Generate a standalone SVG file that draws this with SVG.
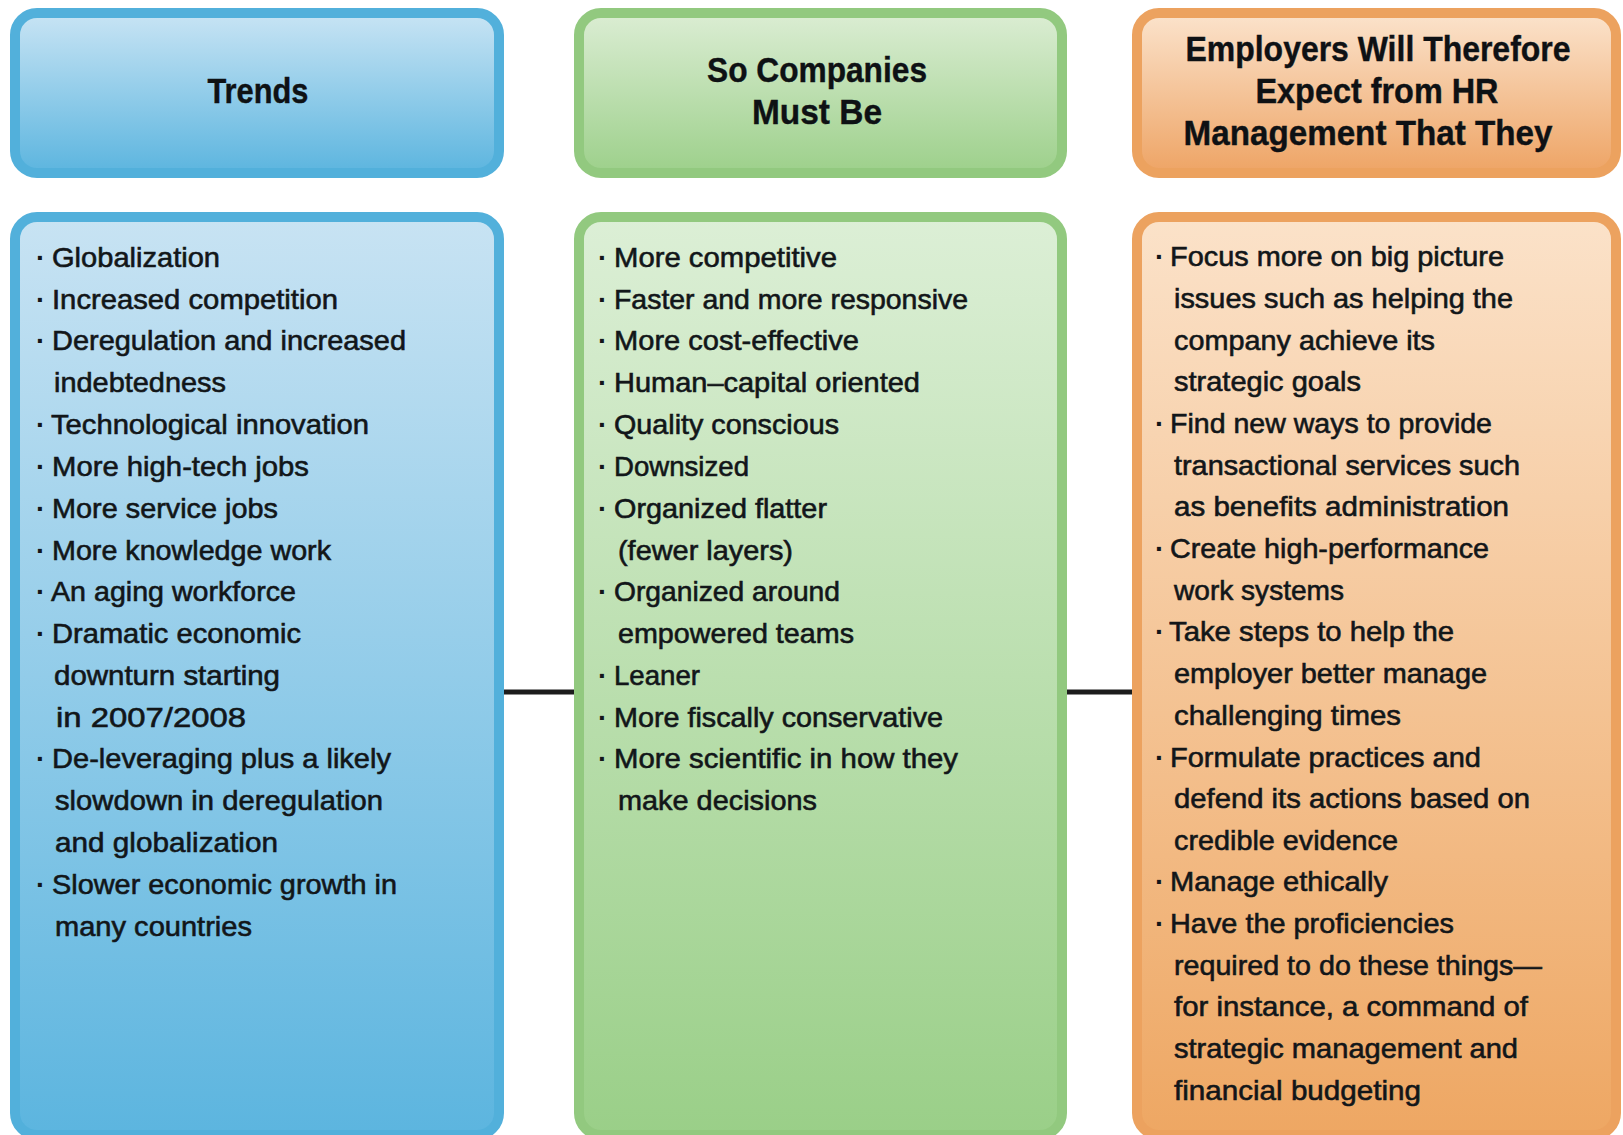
<svg xmlns="http://www.w3.org/2000/svg" width="1623" height="1135" viewBox="0 0 1623 1135">
  <defs>
    <linearGradient id="gBlueHead" x1="0" y1="0" x2="0" y2="1">
      <stop offset="0" stop-color="#c8e4f4"/>
      <stop offset="1" stop-color="#5cb5df"/>
    </linearGradient>
    <linearGradient id="gBlueBody" x1="0" y1="0" x2="0" y2="1">
      <stop offset="0" stop-color="#c8e3f3"/>
      <stop offset="1" stop-color="#5cb5df"/>
    </linearGradient>
    <linearGradient id="gGreenHead" x1="0" y1="0" x2="0" y2="1">
      <stop offset="0" stop-color="#dbedd3"/>
      <stop offset="1" stop-color="#9dd08b"/>
    </linearGradient>
    <linearGradient id="gGreenBody" x1="0" y1="0" x2="0" y2="1">
      <stop offset="0" stop-color="#dcefd6"/>
      <stop offset="1" stop-color="#9acf88"/>
    </linearGradient>
    <linearGradient id="gOrangeHead" x1="0" y1="0" x2="0" y2="1">
      <stop offset="0" stop-color="#fbe3cc"/>
      <stop offset="1" stop-color="#eea465"/>
    </linearGradient>
    <linearGradient id="gOrangeBody" x1="0" y1="0" x2="0" y2="1">
      <stop offset="0" stop-color="#fbe2c9"/>
      <stop offset="1" stop-color="#eea763"/>
    </linearGradient>
  </defs>
  <style>
    .box { stroke-width: 10; }
    .blue { stroke: #52b0db; }
    .green { stroke: #92c97f; }
    .orange { stroke: #eca25f; }
    .head { font-family: "Liberation Sans", Arial, sans-serif; font-weight: bold; font-size: 35px; fill: #0e1114; stroke: #0e1114; stroke-width: 0.4; text-anchor: middle; }
    .item { font-family: "Liberation Sans", Arial, sans-serif; font-size: 28.5px; fill: #121619; stroke: #121619; stroke-width: 0.6; }
    .dot { font-family: "Liberation Sans", Arial, sans-serif; font-size: 28px; fill: #121619; font-weight: bold; }
    .link { stroke: #1c1c1c; stroke-width: 5; fill: none; }
  </style>

  <rect width="1623" height="1135" fill="#ffffff"/>

  <!-- connectors between the body columns -->
  <g id="connectors">
    <line class="link" x1="504" y1="692" x2="574" y2="692"/>
    <line class="link" x1="1067" y1="692" x2="1132" y2="692"/>
  </g>

  <!-- column headers -->
  <g id="head-trends">
    <rect class="box blue" x="15" y="13" width="484" height="160" rx="22" fill="url(#gBlueHead)"/>
    <text class="head" x="258" y="103" textLength="101" lengthAdjust="spacingAndGlyphs">Trends</text>
  </g>
  <g id="head-companies">
    <rect class="box green" x="579" y="13" width="483" height="160" rx="22" fill="url(#gGreenHead)"/>
    <text class="head" x="817" y="82" textLength="220" lengthAdjust="spacingAndGlyphs">So Companies</text>
    <text class="head" x="817" y="124" textLength="130" lengthAdjust="spacingAndGlyphs">Must Be</text>
  </g>
  <g id="head-employers">
    <rect class="box orange" x="1137" y="13" width="479" height="160" rx="22" fill="url(#gOrangeHead)"/>
    <text class="head" x="1378" y="61" textLength="385" lengthAdjust="spacingAndGlyphs">Employers Will Therefore</text>
    <text class="head" x="1377" y="103" textLength="243" lengthAdjust="spacingAndGlyphs">Expect from HR</text>
    <text class="head" x="1368" y="145" textLength="369" lengthAdjust="spacingAndGlyphs">Management That They</text>
  </g>

  <!-- Trends list -->
  <g id="body-trends">
    <rect class="box blue" x="15" y="217" width="484" height="918" rx="22" fill="url(#gBlueBody)"/>
    <g class="dot">
      <text x="36" y="267">·</text>
      <text x="36" y="309">·</text>
      <text x="36" y="350">·</text>
      <text x="36" y="434">·</text>
      <text x="36" y="476">·</text>
      <text x="36" y="518">·</text>
      <text x="36" y="560">·</text>
      <text x="36" y="601">·</text>
      <text x="36" y="643">·</text>
      <text x="36" y="768">·</text>
      <text x="36" y="894">·</text>
    </g>
    <g class="item">
      <text x="52" y="267" textLength="168" lengthAdjust="spacingAndGlyphs">Globalization</text>
      <text x="52" y="309" textLength="286" lengthAdjust="spacingAndGlyphs">Increased competition</text>
      <text x="52" y="350" textLength="354" lengthAdjust="spacingAndGlyphs">Deregulation and increased</text>
      <text x="54" y="392" textLength="172" lengthAdjust="spacingAndGlyphs">indebtedness</text>
      <text x="51" y="434" textLength="318" lengthAdjust="spacingAndGlyphs">Technological innovation</text>
      <text x="52" y="476" textLength="257" lengthAdjust="spacingAndGlyphs">More high-tech jobs</text>
      <text x="52" y="518" textLength="226" lengthAdjust="spacingAndGlyphs">More service jobs</text>
      <text x="52" y="560" textLength="279" lengthAdjust="spacingAndGlyphs">More knowledge work</text>
      <text x="51" y="601" textLength="245" lengthAdjust="spacingAndGlyphs">An aging workforce</text>
      <text x="52" y="643" textLength="249" lengthAdjust="spacingAndGlyphs">Dramatic economic</text>
      <text x="54" y="685" textLength="226" lengthAdjust="spacingAndGlyphs">downturn starting</text>
      <text x="56" y="727" textLength="190" lengthAdjust="spacingAndGlyphs">in 2007/2008</text>
      <text x="52" y="768" textLength="339" lengthAdjust="spacingAndGlyphs">De-leveraging plus a likely</text>
      <text x="55" y="810" textLength="328" lengthAdjust="spacingAndGlyphs">slowdown in deregulation</text>
      <text x="55" y="852" textLength="223" lengthAdjust="spacingAndGlyphs">and globalization</text>
      <text x="52" y="894" textLength="345" lengthAdjust="spacingAndGlyphs">Slower economic growth in</text>
      <text x="55" y="936" textLength="197" lengthAdjust="spacingAndGlyphs">many countries</text>
    </g>
  </g>

  <!-- Companies list -->
  <g id="body-companies">
    <rect class="box green" x="579" y="217" width="483" height="918" rx="22" fill="url(#gGreenBody)"/>
    <g class="dot">
      <text x="598" y="267">·</text>
      <text x="598" y="309">·</text>
      <text x="598" y="350">·</text>
      <text x="598" y="392">·</text>
      <text x="598" y="434">·</text>
      <text x="598" y="476">·</text>
      <text x="598" y="518">·</text>
      <text x="598" y="601">·</text>
      <text x="598" y="685">·</text>
      <text x="598" y="727">·</text>
      <text x="598" y="768">·</text>
    </g>
    <g class="item">
      <text x="614" y="267" textLength="223" lengthAdjust="spacingAndGlyphs">More competitive</text>
      <text x="614" y="309" textLength="354" lengthAdjust="spacingAndGlyphs">Faster and more responsive</text>
      <text x="614" y="350" textLength="245" lengthAdjust="spacingAndGlyphs">More cost-effective</text>
      <text x="614" y="392" textLength="306" lengthAdjust="spacingAndGlyphs">Human–capital oriented</text>
      <text x="614" y="434" textLength="225" lengthAdjust="spacingAndGlyphs">Quality conscious</text>
      <text x="614" y="476" textLength="135" lengthAdjust="spacingAndGlyphs">Downsized</text>
      <text x="614" y="518" textLength="213" lengthAdjust="spacingAndGlyphs">Organized flatter</text>
      <text x="618" y="560" textLength="175" lengthAdjust="spacingAndGlyphs">(fewer layers)</text>
      <text x="614" y="601" textLength="226" lengthAdjust="spacingAndGlyphs">Organized around</text>
      <text x="618" y="643" textLength="236" lengthAdjust="spacingAndGlyphs">empowered teams</text>
      <text x="614" y="685" textLength="86" lengthAdjust="spacingAndGlyphs">Leaner</text>
      <text x="614" y="727" textLength="329" lengthAdjust="spacingAndGlyphs">More fiscally conservative</text>
      <text x="614" y="768" textLength="344" lengthAdjust="spacingAndGlyphs">More scientific in how they</text>
      <text x="618" y="810" textLength="199" lengthAdjust="spacingAndGlyphs">make decisions</text>
    </g>
  </g>

  <!-- HR expectations list -->
  <g id="body-employers">
    <rect class="box orange" x="1137" y="217" width="479" height="918" rx="22" fill="url(#gOrangeBody)"/>
    <g class="dot">
      <text x="1155" y="266">·</text>
      <text x="1155" y="433">·</text>
      <text x="1155" y="558">·</text>
      <text x="1155" y="641">·</text>
      <text x="1155" y="767">·</text>
      <text x="1155" y="891">·</text>
      <text x="1155" y="933">·</text>
    </g>
    <g class="item">
      <text x="1170" y="266" textLength="334" lengthAdjust="spacingAndGlyphs">Focus more on big picture</text>
      <text x="1174" y="308" textLength="339" lengthAdjust="spacingAndGlyphs">issues such as helping the</text>
      <text x="1174" y="350" textLength="261" lengthAdjust="spacingAndGlyphs">company achieve its</text>
      <text x="1174" y="391" textLength="187" lengthAdjust="spacingAndGlyphs">strategic goals</text>
      <text x="1170" y="433" textLength="322" lengthAdjust="spacingAndGlyphs">Find new ways to provide</text>
      <text x="1174" y="475" textLength="346" lengthAdjust="spacingAndGlyphs">transactional services such</text>
      <text x="1174" y="516" textLength="335" lengthAdjust="spacingAndGlyphs">as benefits administration</text>
      <text x="1170" y="558" textLength="319" lengthAdjust="spacingAndGlyphs">Create high-performance</text>
      <text x="1174" y="600" textLength="170" lengthAdjust="spacingAndGlyphs">work systems</text>
      <text x="1169" y="641" textLength="285" lengthAdjust="spacingAndGlyphs">Take steps to help the</text>
      <text x="1174" y="683" textLength="313" lengthAdjust="spacingAndGlyphs">employer better manage</text>
      <text x="1174" y="725" textLength="227" lengthAdjust="spacingAndGlyphs">challenging times</text>
      <text x="1170" y="767" textLength="311" lengthAdjust="spacingAndGlyphs">Formulate practices and</text>
      <text x="1174" y="808" textLength="356" lengthAdjust="spacingAndGlyphs">defend its actions based on</text>
      <text x="1174" y="850" textLength="224" lengthAdjust="spacingAndGlyphs">credible evidence</text>
      <text x="1170" y="891" textLength="218" lengthAdjust="spacingAndGlyphs">Manage ethically</text>
      <text x="1170" y="933" textLength="284" lengthAdjust="spacingAndGlyphs">Have the proficiencies</text>
      <text x="1174" y="975" textLength="368" lengthAdjust="spacingAndGlyphs">required to do these things—</text>
      <text x="1174" y="1016" textLength="354" lengthAdjust="spacingAndGlyphs">for instance, a command of</text>
      <text x="1174" y="1058" textLength="344" lengthAdjust="spacingAndGlyphs">strategic management and</text>
      <text x="1174" y="1100" textLength="247" lengthAdjust="spacingAndGlyphs">financial budgeting</text>
    </g>
  </g>
</svg>
